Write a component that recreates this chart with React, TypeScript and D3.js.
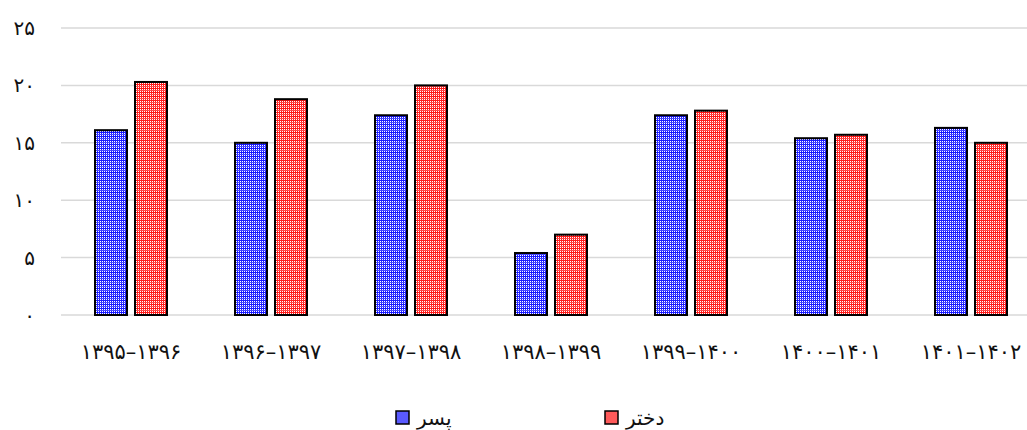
import { useEffect, useRef } from "react";
import * as d3 from "d3";

const categories = [
  "۱۳۹۵–۱۳۹۶",
  "۱۳۹۶–۱۳۹۷",
  "۱۳۹۷–۱۳۹۸",
  "۱۳۹۸–۱۳۹۹",
  "۱۳۹۹–۱۴۰۰",
  "۱۴۰۰–۱۴۰۱",
  "۱۴۰۱–۱۴۰۲",
];
const boys = [16.1, 15.0, 17.4, 5.4, 17.4, 15.4, 16.3];
const girls = [20.3, 18.8, 20.0, 7.0, 17.8, 15.7, 15.0];
const seriesNames = ["پسر", "دختر"];
const yTicks = [0, 5, 10, 15, 20, 25];

const toPersian = (n: number) =>
  String(n).replace(/\d/g, (d) => "۰۱۲۳۴۵۶۷۸۹"[+d]);

const App = () => {
  const ref = useRef<SVGSVGElement | null>(null);

  useEffect(() => {
    if (!ref.current) return;
    const W = 1027;
    const H = 430;
    const svg = d3.select(ref.current).html("").attr("width", W).attr("height", H);
    const font = "'DejaVu Sans', sans-serif";

    // checker patterns for the bars
    const defs = svg.append("defs");
    const colors = ["#1a1aff", "#ff1a1a"];
    colors.forEach((c, i) => {
      const p = defs
        .append("pattern")
        .attr("id", `pat${i}`)
        .attr("patternUnits", "userSpaceOnUse")
        .attr("width", 4)
        .attr("height", 4);
      p.append("rect").attr("width", 4).attr("height", 4).attr("fill", c);
      [[1, 1], [3, 3], [1, 3], [3, 1]].forEach(([x, y]) =>
        p.append("rect").attr("x", x).attr("y", y).attr("width", 1).attr("height", 1).attr("fill", "#fff")
      );
      p.append("rect").attr("x", 0).attr("y", 2).attr("width", 4).attr("height", 0.5).attr("fill", "#fff").attr("opacity", 0.4);
    });

    const x0 = d3.scaleBand<string>().domain(categories).range([61, 1041]).padding(0);
    const x1 = d3
      .scaleBand<string>()
      .domain(seriesNames)
      .range([0, x0.bandwidth()])
      .paddingInner(0.2)
      .paddingOuter(0.85);
    const y = d3.scaleLinear().domain([0, 25]).range([315, 28]);

    // grid
    svg
      .append("g")
      .selectAll("line")
      .data(yTicks)
      .join("line")
      .attr("x1", 61)
      .attr("x2", W)
      .attr("y1", (d) => y(d))
      .attr("y2", (d) => y(d))
      .attr("stroke", "#d9d9d9")
      .attr("stroke-width", 1.5);

    svg
      .append("g")
      .selectAll("text")
      .data(yTicks)
      .join("text")
      .attr("x", 35)
      .attr("y", (d) => y(d) + 7)
      .attr("text-anchor", "end")
      .attr("font-family", font)
      .attr("font-size", 20)
      .attr("fill", "#111")
      .text((d) => toPersian(d));

    // bars
    const groups = svg
      .append("g")
      .selectAll("g")
      .data(categories)
      .join("g")
      .attr("transform", (d) => `translate(${x0(d)},0)`);

    groups
      .selectAll("rect")
      .data((_, i) => [
        { s: seriesNames[0], v: boys[i], k: 0 },
        { s: seriesNames[1], v: girls[i], k: 1 },
      ])
      .join("rect")
      .attr("x", (d) => x1(d.s)!)
      .attr("y", (d) => y(d.v))
      .attr("width", x1.bandwidth())
      .attr("height", (d) => y(0) - y(d.v))
      .attr("fill", (d) => `url(#pat${d.k})`)
      .attr("stroke", "#000")
      .attr("stroke-width", 2);

    // x labels
    svg
      .append("g")
      .selectAll("text")
      .data(categories)
      .join("text")
      .attr("x", (d) => x0(d)! + x0.bandwidth() / 2)
      .attr("y", 359)
      .attr("text-anchor", "middle")
      .attr("font-family", font)
      .attr("font-size", 21)
      .attr("fill", "#111")
      .text((d) => d);

    // legend
    const legendX = [396, 605];
    const swatch = ["#5a5aff", "#ff5a5a"];
    seriesNames.forEach((name, i) => {
      svg
        .append("rect")
        .attr("x", legendX[i])
        .attr("y", 411)
        .attr("width", 13)
        .attr("height", 13)
        .attr("fill", swatch[i])
        .attr("stroke", "#000")
        .attr("stroke-width", 1.5);
      svg
        .append("text")
        .attr("x", legendX[i] + 21)
        .attr("y", 425)
        .attr("font-family", font)
        .attr("font-size", 20)
        .attr("fill", "#111")
        .text(name);
    });
  }, []);

  return (
    <svg
      ref={ref}
      style={{ position: "absolute", left: 0, top: 0, background: "#fff" }}
    />
  );
};

export default App;
